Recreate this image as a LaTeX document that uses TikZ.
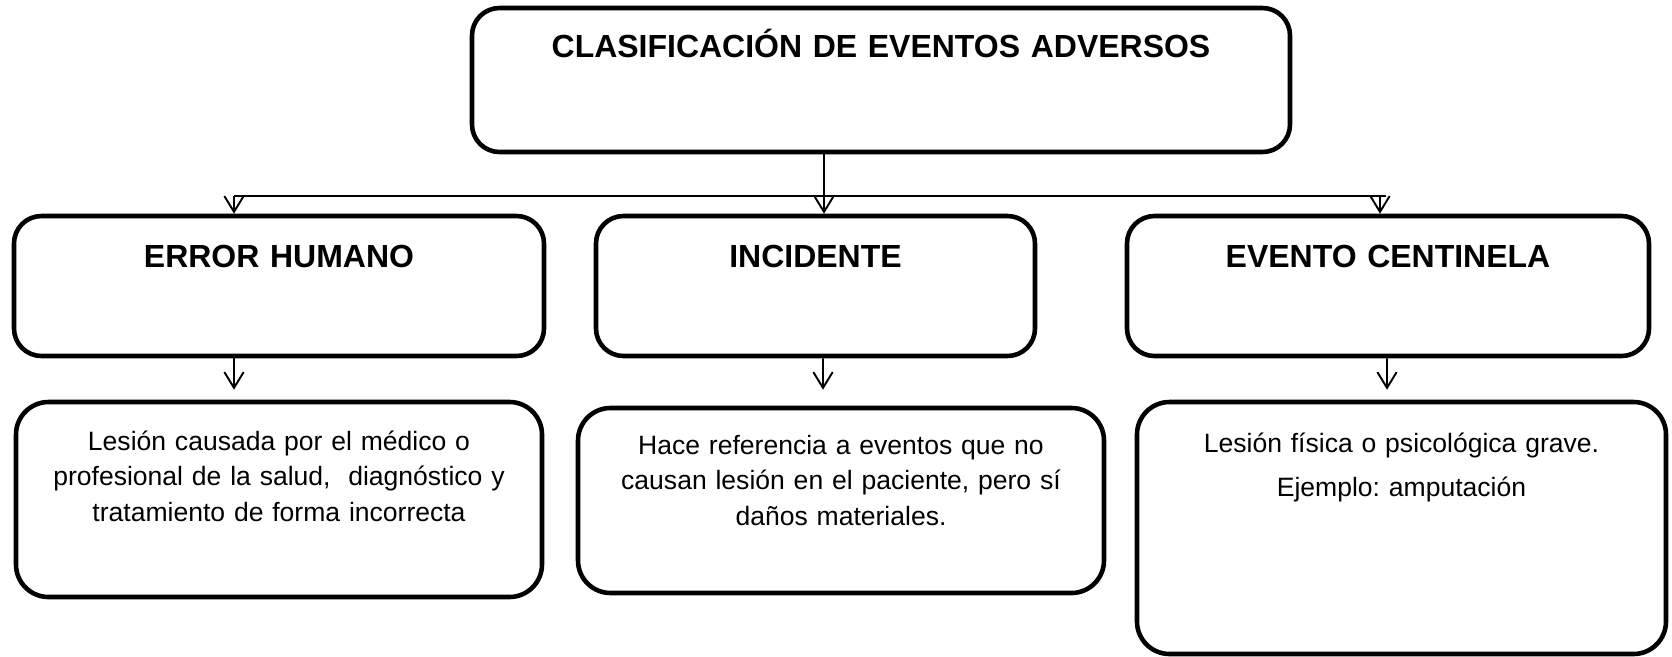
\documentclass[tikz,border=0pt]{standalone}
\usepackage{fontspec}
\setmainfont{Liberation Sans}
\usetikzlibrary{arrows.meta}
\frenchspacing

\begin{document}
\begin{tikzpicture}[box/.style={draw,line width=2.6pt,rounded corners=0.55cm,inner sep=0pt,align=center},
  head/.style={font=\fontsize{18.2pt}{22pt}\selectfont\bfseries,text height=1.02cm,text depth=1.78cm},
  body/.style={font=\fontsize{15.1pt}{20.2pt}\selectfont,rounded corners=0.65cm,text width=10.52cm}]
\useasboundingbox (0,0) rectangle (33.44,-13.12);
\node[box,head,text width=16.36cm,text height=0.98cm,text depth=1.90cm] (clas) at (17.62,-1.60) {CLASIFICACIÓN DE EVENTOS ADVERSOS};
\node[box,head,text width=10.60cm] (err) at (5.58,-5.72) {ERROR HUMANO};
\node[box,head,text width=8.78cm] (inc) at (16.31,-5.72) {INCIDENTE};
\node[box,head,text width=10.44cm] (cent) at (27.76,-5.72) {EVENTO CENTINELA};
\node[box,body,text height=0.96cm,text depth=2.94cm] (lerr) at (5.58,-9.99) {Lesión causada por el médico o\\ profesional de la salud, \ diagnóstico y\\ tratamiento de forma incorrecta};
\node[box,body,text height=0.92cm,text depth=2.78cm] (linc) at (16.82,-10.01) {Hace referencia a eventos que no\\ causan lesión en el paciente, pero sí\\ daños materiales.};
\node[box,body,text width=10.58cm,text height=1.00cm,text depth=4.04cm] (lcent) at (28.03,-10.56) {Lesión física o psicológica grave.\\[5.4pt] Ejemplo: amputación};
\coordinate (jL) at (4.68,-3.92);
\coordinate (jR) at (27.60,-3.92);
\draw[line width=1.1pt] (jL) -- (27.72,-3.92);
\path[->,line width=1.1pt,>={Straight Barb[length=9pt,width=11pt]}]
([xshift=-1.14cm]clas.south) edge ([xshift=0.17cm]inc.north)
(jL) edge ([xshift=-0.9cm]err.north)
(jR) edge ([xshift=-0.16cm]cent.north)
;
\path[->,line width=1.1pt,shorten >=0.2cm,>={Straight Barb[length=9pt,width=11pt]}]
([xshift=-0.9cm]err.south) edge ([xshift=-0.9cm]lerr.north)
([xshift=0.15cm]inc.south) edge[shorten >=0.32cm] ([xshift=-0.36cm]linc.north)
([xshift=-0.02cm]cent.south) edge ([xshift=-0.29cm]lcent.north)
;
\end{tikzpicture}
\end{document}
